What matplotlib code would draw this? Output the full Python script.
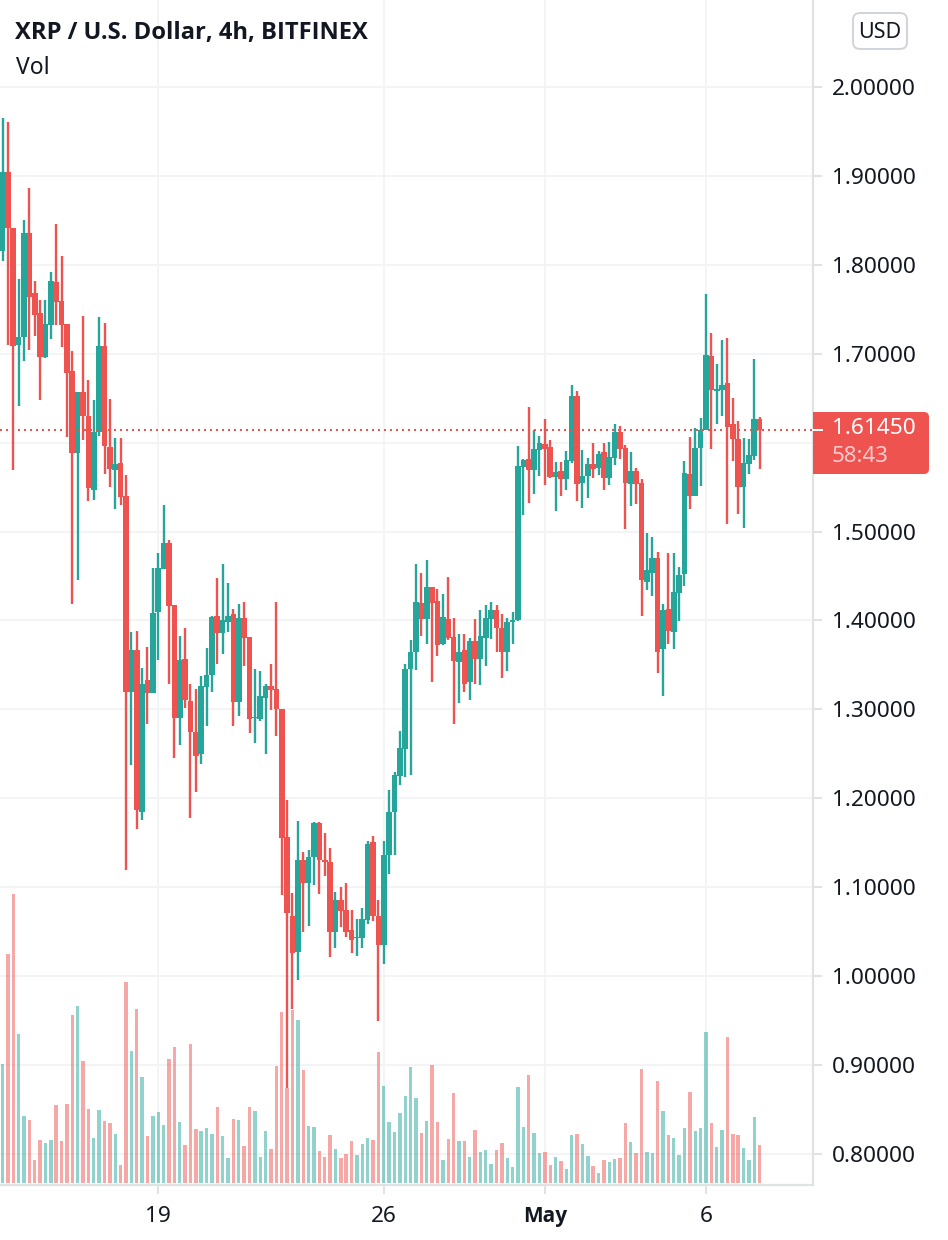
import matplotlib
matplotlib.use("Agg")
import matplotlib.pyplot as plt
from matplotlib.patches import FancyBboxPatch, Rectangle
from matplotlib.lines import Line2D
from matplotlib.transforms import Affine2D

opens = [
1.816,1.904,1.841,1.710,1.719,1.836,1.768,1.746,1.696,1.732,
1.781,1.759,1.733,1.680,1.588,1.657,1.630,1.547,1.612,1.709,
1.595,1.569,1.577,1.540,1.320,1.367,1.185,1.333,1.318,1.409,
1.458,1.487,1.417,1.290,1.357,1.309,1.275,1.250,1.325,1.339,
1.405,1.386,1.398,1.407,1.308,1.403,1.381,1.290,1.289,1.313,
1.326,1.323,1.300,1.156,1.068,1.027,1.131,1.105,1.134,1.172,
1.130,1.128,1.050,1.086,1.074,1.052,1.043,1.043,1.063,1.151,
1.067,1.035,1.136,1.184,1.225,1.255,1.345,1.364,1.420,1.402,
1.438,1.422,1.373,1.402,1.381,1.353,1.367,1.331,1.377,1.357,
1.380,1.402,1.412,1.392,1.364,1.398,1.400,1.573,1.581,1.569,
1.592,1.598,1.595,1.561,1.568,1.559,1.579,1.652,1.554,1.562,
1.576,1.571,1.589,1.560,1.583,1.612,1.594,1.553,1.568,1.554,
1.443,1.453,1.470,1.368,1.413,1.387,1.431,1.452,1.565,1.540,
1.594,1.614,1.697,1.658,1.659,1.667,1.621,1.604,1.550,1.576,
1.585,1.626]
highs = [
1.965,1.961,1.841,1.784,1.850,1.886,1.782,1.760,1.760,1.792,
1.846,1.810,1.733,1.703,1.657,1.742,1.670,1.648,1.741,1.734,
1.649,1.605,1.605,1.563,1.387,1.388,1.346,1.370,1.459,1.476,
1.530,1.490,1.417,1.382,1.391,1.328,1.323,1.337,1.369,1.405,
1.448,1.463,1.442,1.413,1.418,1.421,1.381,1.345,1.343,1.328,
1.351,1.421,1.300,1.198,1.093,1.174,1.139,1.142,1.173,1.173,
1.161,1.144,1.094,1.100,1.105,1.074,1.064,1.077,1.152,1.157,
1.086,1.152,1.209,1.229,1.276,1.351,1.378,1.463,1.453,1.468,
1.438,1.435,1.430,1.449,1.403,1.385,1.385,1.380,1.402,1.412,
1.417,1.421,1.417,1.407,1.403,1.409,1.596,1.581,1.640,1.614,
1.607,1.626,1.603,1.578,1.578,1.590,1.665,1.658,1.592,1.583,
1.600,1.590,1.600,1.601,1.621,1.619,1.597,1.589,1.571,1.559,
1.498,1.494,1.477,1.419,1.476,1.476,1.460,1.579,1.606,1.616,
1.628,1.767,1.723,1.688,1.715,1.718,1.650,1.624,1.605,1.604,
1.694,1.629]
lows = [
1.804,1.710,1.569,1.641,1.692,1.704,1.720,1.648,1.695,1.716,
1.732,1.707,1.606,1.419,1.446,1.603,1.534,1.535,1.607,1.565,
1.550,1.525,1.530,1.119,1.237,1.165,1.175,1.283,1.318,1.355,
1.458,1.328,1.245,1.260,1.301,1.178,1.207,1.239,1.281,1.320,
1.351,1.362,1.387,1.281,1.292,1.349,1.273,1.262,1.287,1.250,
1.299,1.270,1.091,0.874,0.963,0.995,1.049,1.056,1.102,1.092,
1.112,1.021,1.031,1.055,1.044,1.026,1.023,1.032,1.058,1.062,
0.949,1.013,1.115,1.136,1.215,1.224,1.226,1.344,1.382,1.373,
1.331,1.360,1.372,1.378,1.283,1.307,1.320,1.310,1.329,1.327,
1.349,1.379,1.364,1.335,1.343,1.374,1.399,1.518,1.532,1.542,
1.562,1.552,1.560,1.523,1.540,1.547,1.577,1.534,1.526,1.538,
1.560,1.564,1.547,1.552,1.575,1.581,1.503,1.529,1.531,1.405,
1.434,1.427,1.341,1.315,1.374,1.368,1.399,1.439,1.525,1.540,
1.551,1.614,1.593,1.621,1.630,1.508,1.579,1.520,1.504,1.565,
1.580,1.570]
closes = [
1.904,1.841,1.709,1.719,1.836,1.764,1.743,1.696,1.733,1.782,
1.758,1.732,1.678,1.588,1.657,1.630,1.549,1.612,1.709,1.596,
1.570,1.576,1.539,1.320,1.367,1.187,1.329,1.318,1.408,1.459,
1.487,1.416,1.290,1.355,1.310,1.274,1.247,1.326,1.339,1.404,
1.386,1.400,1.405,1.308,1.403,1.380,1.289,1.291,1.315,1.326,
1.322,1.300,1.155,1.071,1.026,1.131,1.105,1.134,1.172,1.130,
1.128,1.050,1.086,1.073,1.050,1.041,1.044,1.064,1.149,1.067,
1.035,1.136,1.184,1.226,1.256,1.345,1.365,1.421,1.402,1.438,
1.420,1.372,1.404,1.380,1.354,1.365,1.329,1.377,1.357,1.382,
1.403,1.412,1.392,1.364,1.398,1.400,1.574,1.580,1.569,1.593,
1.600,1.593,1.561,1.567,1.559,1.580,1.652,1.553,1.562,1.576,
1.570,1.587,1.560,1.584,1.612,1.593,1.554,1.568,1.553,1.446,
1.457,1.470,1.365,1.412,1.388,1.432,1.451,1.566,1.540,1.594,
1.614,1.698,1.659,1.660,1.665,1.617,1.604,1.550,1.577,1.586,
1.626,1.6145]
volumes = [
119,229,289,149,67,63,23,43,40,43,78,42,79,168,177,122,74,45,73,62,
60,49,18,201,132,174,106,47,67,71,58,124,136,61,38,139,54,52,55,49,
76,47,25,64,63,37,76,72,26,52,34,117,171,95,173,163,113,57,56,32,
26,48,34,25,29,42,28,39,45,43,131,97,61,51,70,87,116,85,50,62,
118,61,23,44,90,42,42,26,53,31,33,19,33,40,25,16,96,56,108,50,
30,31,18,26,22,14,48,49,39,27,17,10,23,21,24,25,60,41,30,114,
31,30,102,72,48,45,28,55,91,52,55,151,60,36,53,146,49,48,35,23,
66,38]
price_ticks = [2.0,1.9,1.8,1.7,1.6,1.5,1.4,1.3,1.2,1.1,1.0,0.9,0.8]
date_ticks = [29,71,101,131]
date_labels = ["19","26","May","6"]
last_price = 1.6145
title = "XRP / U.S. Dollar, 4h, BITFINEX"

GREEN = "#26a69a"
RED = "#ef5350"
TEXT = "#131722"
GRID = "#f2f4f5"
AXIS = "#e0e3e3"
FONT = "Noto Sans"
BOLD = "Open Sans"

W, H = 948, 1240
fig = plt.figure(figsize=(W/100, H/100), dpi=100, facecolor="white")
plt.rcParams["font.family"] = FONT
PX = Affine2D().scale(1, -1).translate(0, H)
rect = [0, (H-1184.5)/H, 813/W, 1184.5/H]
xlim = (-2.5/5.37, (813-2.5)/5.37)
ylim = (2.0-1097.5/889, 2.0+87/889)

ax = fig.add_axes(rect, zorder=0)
ax.set_xlim(xlim); ax.set_ylim(ylim)
ax.set_yticks(price_ticks)
# the 1.6 label sits under the last-price tag in the reference, so it shows no text
ax.set_yticklabels(["" if p == 1.6 else f"{p:.5f}" for p in price_ticks],
                   fontfamily=FONT, fontsize=16.3, color=TEXT)
ax.yaxis.tick_right()
ax.tick_params(axis="y", length=6.5, width=1.44, color=AXIS, pad=7.2)
ax.set_xticks(date_ticks)
ax.set_xticklabels(date_labels, fontfamily=FONT, fontsize=16.3, color=TEXT)
may = ax.get_xticklabels()[2]
may.set_fontfamily(BOLD)
may.set_fontweight("bold")
may.set_fontsize(15)
ax.tick_params(axis="x", length=6.5, width=1.44, color=AXIS, pad=9)
ax.grid(True, color=GRID, linewidth=1.44)
ax.set_axisbelow(True)
for s in ("top", "left"):
    ax.spines[s].set_visible(False)
for s in ("right", "bottom"):
    ax.spines[s].set_color(AXIS)
    ax.spines[s].set_linewidth(1.6)

axv = fig.add_axes(rect, zorder=1, facecolor="none")
axv.set_xlim(xlim); axv.set_ylim(-1.5, 1183)
axv.axis("off")

axc = fig.add_axes(rect, zorder=2, facecolor="none")
axc.set_xlim(xlim); axc.set_ylim(ylim)
axc.axis("off")

x = list(range(len(opens)))
colors = [GREEN if c >= o else RED for o, c in zip(opens, closes)]
axv.bar(x, volumes, width=3.4/5.37, color=colors, alpha=0.5, linewidth=0)
axc.vlines(x, lows, highs, colors=colors, linewidth=1.7)
axc.bar(x, [abs(c-o) for o, c in zip(opens, closes)],
        bottom=[min(o, c) for o, c in zip(opens, closes)],
        width=1.05, color=colors, linewidth=0)
axc.axhline(last_price, color=RED, linewidth=1.44, linestyle=(0, (1, 2)), dash_capstyle="butt")

# price label
fig.add_artist(FancyBboxPatch((820, 412), 109, 62, boxstyle="round,pad=0,rounding_size=5",
                              fc=RED, ec="none", transform=PX, zorder=5))
fig.add_artist(Rectangle((813, 412), 30, 62, fc=RED, ec="none", transform=PX, zorder=5))
fig.add_artist(Line2D([813, 822], [429.7, 429.7], color="white", lw=1.44, transform=PX, zorder=6))
fig.text(832, 429, f"{last_price:.5f}", transform=PX, color="white", fontsize=16.3,
         fontfamily=FONT, va="center", ha="left", zorder=7)
fig.text(832, 457, "58:43", transform=PX, color="white", alpha=0.7, fontsize=16,
         fontfamily=FONT, va="center", ha="left", zorder=7)

# currency button
fig.add_artist(FancyBboxPatch((853, 13), 54, 36, boxstyle="round,pad=0,rounding_size=7",
                              fc="white", ec="#d1d4dc", lw=1.44, transform=PX, zorder=5))
fig.text(880, 32, "USD", transform=PX, color=TEXT, fontsize=15.5, fontfamily=FONT,
         va="center", ha="center", zorder=7)

# header
fig.text(15, 33, title, transform=PX, color=TEXT, fontsize=17.1, fontweight="bold",
         fontfamily=BOLD, va="center", ha="left", zorder=7)
fig.text(16, 67.5, "Vol", transform=PX, color=TEXT, fontsize=16.5, fontfamily=FONT,
         va="center", ha="left", zorder=7)

fig.savefig("out.png", dpi=100, facecolor="white")
